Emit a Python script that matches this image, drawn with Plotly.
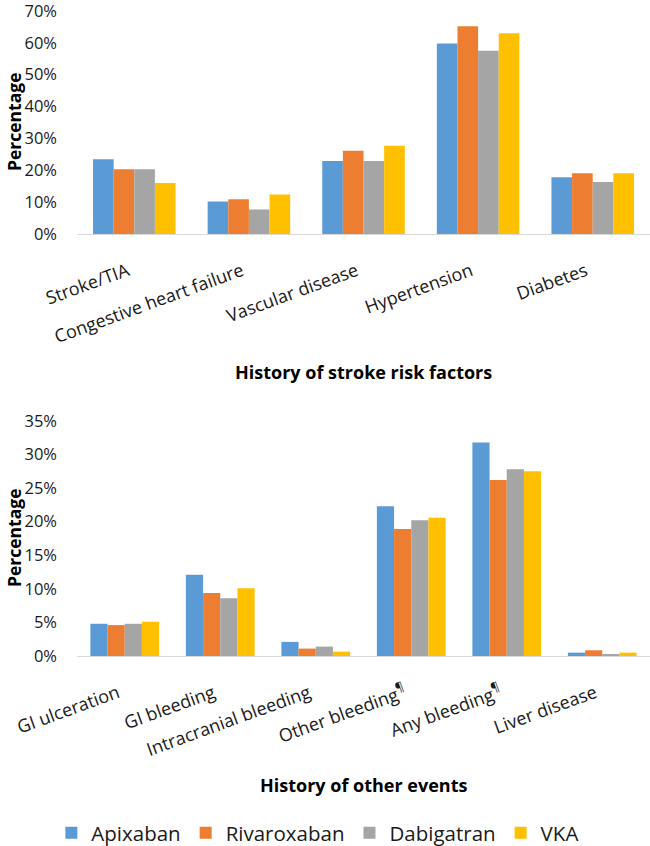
import plotly.graph_objects as go

series = ["Apixaban", "Rivaroxaban", "Dabigatran", "VKA"]
colors = ["#5B9BD5", "#ED7D31", "#A5A5A5", "#FFC000"]

top_categories = ["Stroke/TIA", "Congestive heart failure", "Vascular disease", "Hypertension", "Diabetes"]
top_apixaban = [23.5, 10.2, 22.9, 59.8, 17.8]
top_rivaroxaban = [20.3, 10.9, 26.1, 65.2, 19.1]
top_dabigatran = [20.3, 7.7, 22.9, 57.5, 16.3]
top_vka = [16.0, 12.4, 27.7, 63.0, 19.1]

bottom_categories = ["GI ulceration", "GI bleeding", "Intracranial bleeding",
                     "Other bleeding<sup>¶</sup>", "Any bleeding<sup>¶</sup>", "Liver disease"]
bottom_apixaban = [4.8, 12.1, 2.1, 22.3, 31.8, 0.5]
bottom_rivaroxaban = [4.6, 9.4, 1.1, 18.9, 26.2, 0.85]
bottom_dabigatran = [4.8, 8.6, 1.4, 20.2, 27.8, 0.3]
bottom_vka = [5.1, 10.1, 0.65, 20.6, 27.5, 0.5]

top_values = [top_apixaban, top_rivaroxaban, top_dabigatran, top_vka]
bottom_values = [bottom_apixaban, bottom_rivaroxaban, bottom_dabigatran, bottom_vka]

FONT = "Open Sans"
TXT = "#1a1a1a"
W, H = 650, 846

fig = go.Figure()
for name, color, tv, bv in zip(series, colors, top_values, bottom_values):
    fig.add_trace(go.Bar(x=top_categories, y=[v / 100 for v in tv], name=name,
                         marker=dict(color=color, line=dict(width=0)),
                         xaxis="x", yaxis="y", legendgroup=name))
    fig.add_trace(go.Bar(x=bottom_categories, y=[v / 100 for v in bv], name=name,
                         marker=dict(color=color, line=dict(width=0)),
                         xaxis="x2", yaxis="y2", legendgroup=name, showlegend=False))

x_left = 77 / W
top_dom = [(H - 234) / H, (H - 11) / H]
bot_dom = [(H - 656) / H, (H - 421) / H]

xaxis_common = dict(showgrid=False, zeroline=False, automargin=False, showline=True,
                    linecolor="#D9D9D9", linewidth=1, tickangle=-20, ticks="",
                    ticklabelstandoff=19, ticklabelshift=-7, ticklabeloverflow="allow",
                    tickfont=dict(family=FONT, size=18, color=TXT))
yaxis_common = dict(showgrid=False, zeroline=False, automargin=False, showline=False,
                    ticks="", ticklabelstandoff=19, tickformat=".0%", ticklabeloverflow="allow",
                    tickfont=dict(family=FONT, size=16.5, color=TXT))

fig.update_layout(
    width=W, height=H,
    margin=dict(l=0, r=0, t=0, b=0, autoexpand=False),
    paper_bgcolor="white", plot_bgcolor="white",
    barmode="group", bargap=0.28, bargroupgap=0,
    font=dict(family=FONT, color=TXT),
    xaxis=dict(domain=[x_left, 1], anchor="y", **xaxis_common),
    yaxis=dict(domain=top_dom, anchor="x", range=[0, 0.7], dtick=0.1, **yaxis_common),
    xaxis2=dict(domain=[x_left, 1], anchor="y2", **xaxis_common),
    yaxis2=dict(domain=bot_dom, anchor="x2", range=[0, 0.35], dtick=0.05, **yaxis_common),
    legend=dict(orientation="h", x=0.489, xanchor="center", y=(H - 833) / H, yanchor="middle",
                font=dict(family=FONT, size=20.5, color=TXT), traceorder="normal",
                itemwidth=30),
    showlegend=True,
)

annotations = [
    dict(text="<b>Percentage</b>", x=0, xanchor="left", y=(H - 122) / H, textangle=-90, size=17.5),
    dict(text="<b>Percentage</b>", x=0, xanchor="left", y=(H - 538) / H, textangle=-90, size=17.5),
    dict(text="<b>History of stroke risk factors</b>", x=(77 + 650) / 2 / W, xanchor="center",
         y=(H - 372) / H, size=18),
    dict(text="<b>History of other events</b>", x=(77 + 650) / 2 / W, xanchor="center",
         y=(H - 785) / H, size=18),
]
for a in annotations:
    size = a.pop("size")
    fig.add_annotation(xref="paper", yref="paper", showarrow=False, yanchor="middle",
                       font=dict(family=FONT, size=size, color="#000000"), **a)

fig.write_html("out.html", config={"displayModeBar": False},
               post_script="document.body.style.margin='0';")
